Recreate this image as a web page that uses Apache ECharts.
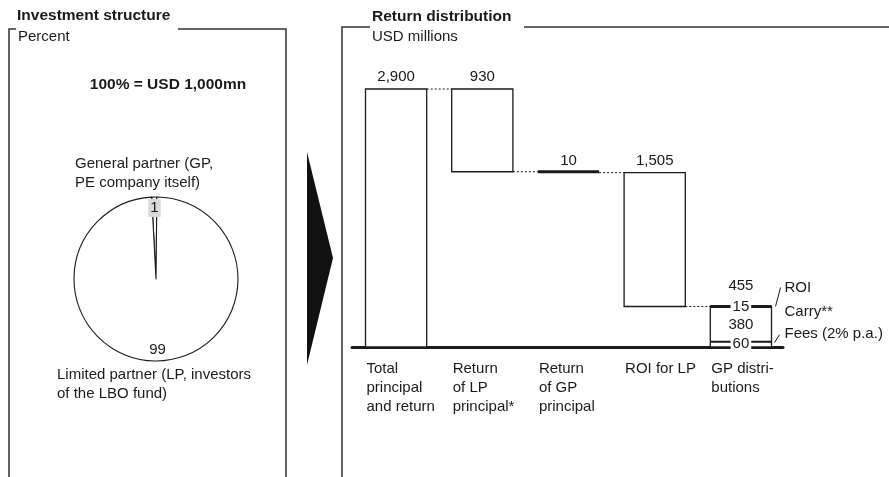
<!DOCTYPE html>
<html>
<head>
<meta charset="utf-8">
<title>LBO fund: investment structure and return distribution</title>
<script src="https://cdn.jsdelivr.net/npm/echarts@6/dist/echarts.min.js"></script>
<style>
  html, body { margin: 0; padding: 0; background: #fff; }
  #chart { width: 889px; height: 477px; }
</style>
</head>
<body>
<div id="chart"></div>
<script>
// Return waterfall (USD millions)
const categories = [
  'Total\nprincipal\nand return',
  'Return\nof LP\nprincipal*',
  'Return\nof GP\nprincipal',
  'ROI for LP',
  'GP distri-\nbutions'
];
const flowValues = [2900, 930, 10, 1505, 455];

// Split of the GP distributions bar, bottom to top
const gpPartNames = ['Fees (2% p.a.)', 'Carry**', 'ROI'];
const gpPartValues = [60, 380, 15];

// Fund ownership (percent)
const pieNames = ['General partner (GP,\nPE company itself)', 'Limited partner (LP, investors\nof the LBO fund)'];
const pieValues = [1, 99];

const INK = '#1a1a1a';
const FONT = '"Liberation Sans", Arial, Helvetica, sans-serif';
const BODY = '15px ' + FONT;
const BOLD = 'bold 15.5px ' + FONT;
const fmt = v => v.toLocaleString('en-US');

// Waterfall ranges: first bar starts at 0, middle bars step down, last bar rests on 0
const flowRanges = [];
(function () {
  let level = 0;
  flowValues.forEach((v, i) => {
    if (i === 0) { flowRanges.push([i, 0, v]); level = v; }
    else if (i === flowValues.length - 1) { flowRanges.push([i, 0, v]); }
    else { flowRanges.push([i, level - v, level]); level -= v; }
  });
})();
const LAST = flowValues.length - 1;

function txt(text, x, y, opts) {
  return {
    type: 'text',
    style: Object.assign({
      text: text, x: x, y: y, fill: INK,
      font: BODY, align: 'center', verticalAlign: 'middle', lineHeight: 19
    }, opts || {})
  };
}

function renderFlow(params, api) {
  const i = api.value(0), lo = api.value(1), hi = api.value(2);
  const band = api.size([1, 0])[0];
  const w = band * 0.71;
  const pTop = api.coord([i, hi]);
  const pBot = api.coord([i, lo]);
  const cx = pTop[0] + 1, x0 = cx - w / 2, x1 = cx + w / 2;
  const base = api.coord([i, 0])[1];
  const kids = [];
  const edge = { stroke: INK, lineWidth: 1.3, fill: '#fff' };

  if (i === LAST) {
    // GP distributions: stacked fees / carry / ROI
    kids.push({ type: 'rect', shape: { x: x0, y: pTop[1], width: w, height: pBot[1] - pTop[1] }, style: edge });
    let acc = 0;
    const bounds = gpPartValues.map(v => { const a = acc; acc += v; return [a, acc]; });
    const feeTop = api.coord([i, bounds[0][1]])[1];
    kids.push({ type: 'line', shape: { x1: x0, y1: feeTop, x2: x1, y2: feeTop }, style: { stroke: INK, lineWidth: 2 } });
    kids.push({ type: 'line', shape: { x1: x0, y1: pTop[1], x2: x1, y2: pTop[1] }, style: { stroke: INK, lineWidth: 3 } });
    bounds.forEach((b, k) => {
      const yMid = (api.coord([i, b[0]])[1] + api.coord([i, b[1]])[1]) / 2;
      const boxed = k !== 1;
      kids.push(txt(fmt(gpPartValues[k]), cx, k === 2 ? pTop[1] : yMid,
        boxed ? { backgroundColor: '#fff', padding: [0, 2], lineHeight: 14 } : null));
    });
    kids.push(txt(fmt(flowValues[i]), cx, pTop[1] - 21));
    // Side annotations with leader strokes
    const ax = x1 + 13;
    kids.push({ type: 'line', shape: { x1: x1 + 4, y1: pTop[1], x2: x1 + 9, y2: pTop[1] - 19 }, style: { stroke: INK, lineWidth: 1 } });
    kids.push(txt(gpPartNames[2], ax, pTop[1] - 19, { align: 'left' }));
    kids.push(txt(gpPartNames[1], ax, pTop[1] + 5, { align: 'left' }));
    kids.push({ type: 'line', shape: { x1: x1 + 3, y1: feeTop + 1, x2: x1 + 8, y2: feeTop - 7 }, style: { stroke: INK, lineWidth: 1 } });
    kids.push(txt(gpPartNames[0], ax, feeTop - 8, { align: 'left' }));
  } else if (pBot[1] - pTop[1] < 3) {
    kids.push({ type: 'line', shape: { x1: x0, y1: pTop[1], x2: x1, y2: pTop[1] }, style: { stroke: INK, lineWidth: 3 } });
    kids.push(txt(fmt(flowValues[i]), cx, pTop[1] - 11));
  } else {
    kids.push({ type: 'rect', shape: { x: x0, y: pTop[1], width: w, height: pBot[1] - pTop[1] }, style: edge });
    kids.push(txt(fmt(flowValues[i]), cx, pTop[1] - 12));
  }

  // Dotted connector to the next bar
  if (i < LAST) {
    const lvl = i === 0 ? hi : lo;
    const y = api.coord([i, lvl])[1];
    kids.push({ type: 'line', shape: { x1: x1, y1: y, x2: x0 + band, y2: y },
      style: { stroke: INK, lineWidth: 1, lineDash: [2, 2] } });
  }

  // Category label under the axis, aligned to the bar's left edge
  kids.push(txt(categories[i], x0 + 1, base + 12, { align: 'left', verticalAlign: 'top' }));

  return { type: 'group', children: kids };
}

const chart = echarts.init(document.getElementById('chart'), null, { renderer: 'canvas' });

const panelStroke = { stroke: '#333', lineWidth: 1.5, fill: null };

chart.setOption({
  animation: false,
  backgroundColor: '#fff',
  textStyle: { fontFamily: FONT },
  grid: { left: 352, right: 106, top: 89, bottom: 130 },
  xAxis: {
    type: 'category', data: categories, boundaryGap: true,
    axisLine: { lineStyle: { color: INK, width: 3 } },
    axisTick: { show: false }, axisLabel: { show: false }, splitLine: { show: false }
  },
  yAxis: { type: 'value', min: 0, max: 2900, show: false, splitLine: { show: false } },
  series: [
    {
      type: 'custom', renderItem: renderFlow, data: flowRanges,
      encode: { x: 0, y: [1, 2] }, clip: false, silent: true, z: 3
    },
    {
      type: 'pie', center: [156, 279], radius: 82, startAngle: 93, clockwise: true,
      silent: true, label: { show: false }, labelLine: { show: false },
      itemStyle: { color: '#fff', borderColor: INK, borderWidth: 1.1 },
      data: pieValues.map((v, k) => ({ value: v, name: pieNames[k] }))
    },
    {
      // Carrier ring for the percentage labels
      type: 'pie', center: [156, 279], radius: [60, 76], startAngle: 93, clockwise: true,
      silent: true, labelLine: { show: false },
      itemStyle: { color: 'rgba(0,0,0,0)', borderWidth: 0 },
      label: {
        show: true, position: 'inside', color: INK, fontSize: 15, fontFamily: FONT,
        formatter: p => String(p.value)
      },
      data: pieValues.map((v, k) => ({
        value: v, name: pieNames[k],
        label: k === 0 ? { backgroundColor: '#d9d9d9', padding: [2, 2, 1, 2] } : {}
      }))
    }
  ],
  graphic: [
    // Left panel frame
    { type: 'polyline', shape: { points: [[16, 29], [9, 29], [9, 477]] }, style: panelStroke },
    { type: 'polyline', shape: { points: [[178, 29], [286, 29], [286, 477]] }, style: panelStroke },
    // Right panel frame
    { type: 'polyline', shape: { points: [[370, 27], [342, 27], [342, 477]] }, style: panelStroke },
    { type: 'line', shape: { x1: 524, y1: 27, x2: 889, y2: 27 }, style: { stroke: '#333', lineWidth: 1.5 } },
    // Titles and units
    { type: 'text', style: { text: 'Investment structure', x: 17, y: 16, font: BOLD, fill: INK, verticalAlign: 'middle' } },
    { type: 'text', style: { text: 'Percent', x: 18, y: 37, font: BODY, fill: INK, verticalAlign: 'middle' } },
    { type: 'text', style: { text: 'Return distribution', x: 372, y: 17, font: BOLD, fill: INK, verticalAlign: 'middle' } },
    { type: 'text', style: { text: 'USD millions', x: 372, y: 37, font: BODY, fill: INK, verticalAlign: 'middle' } },
    { type: 'text', style: { text: '100% = USD 1,000mn', x: 168, y: 85, font: BOLD, fill: INK, align: 'center', verticalAlign: 'middle' } },
    // Pie segment names
    { type: 'text', style: { text: pieNames[0], x: 75, y: 154, font: BODY, fill: INK, lineHeight: 19, verticalAlign: 'top' } },
    { type: 'text', style: { text: pieNames[1], x: 57, y: 365, font: BODY, fill: INK, lineHeight: 19, verticalAlign: 'top' } },
    // Flow arrow between panels
    { type: 'polygon', shape: { points: [[307, 152], [333, 258], [307, 365]] }, style: { fill: '#111' } }
  ]
});
</script>
</body>
</html>
